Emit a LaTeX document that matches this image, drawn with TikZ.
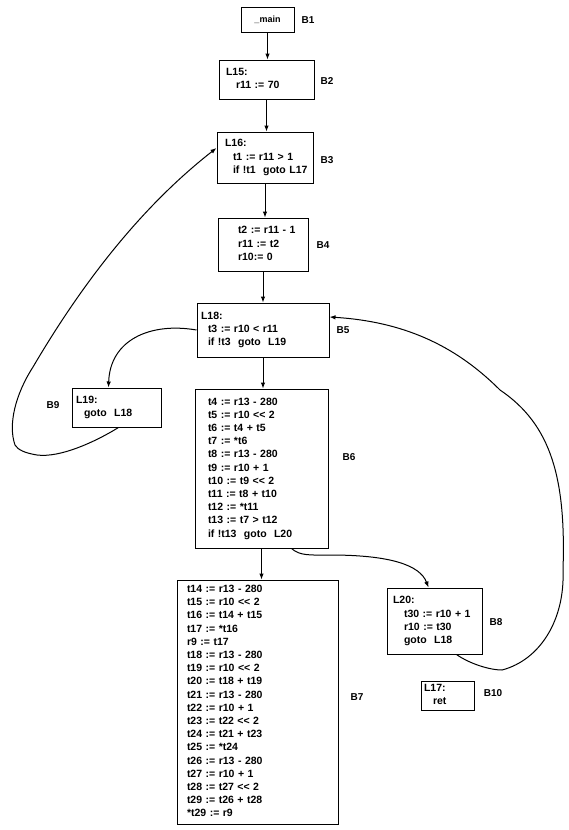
\documentclass[tikz,border=0pt]{standalone}
\usepackage{fontspec}
\setmainfont{Liberation Sans}[Ligatures=TeXOff]
\usetikzlibrary{arrows.meta}
\newcommand\blines[1]{\begin{tabular}{@{}l@{}}#1\end{tabular}}
\newcommand\ind[1]{\hspace*{#1pt}}
\newcommand\wsp{\hspace{0.7em}}
\newcommand\blkfont{\fontsize{10.5}{13.2}\selectfont\bfseries\spaceskip=0.42em plus 0.1em\relax}
\tikzset{
  blk/.style={draw, line width=1pt, inner xsep=0pt, inner ysep=0pt,
    font=\blkfont, align=left},
  lbl/.style={font=\fontsize{10}{12}\selectfont\bfseries},
  arr/.style={line width=1pt, -{Latex[length=6pt,width=4.5pt]}},
}
\begin{document}
\begin{tikzpicture}[x=1pt,y=-1pt]
\useasboundingbox (0,0) rectangle (569,830);

\node[blk, minimum width=53pt, minimum height=25pt, align=center, font=\fontsize{9}{11}\selectfont\bfseries] (B1) at (267.5,19.5) {\_main};
\node[blk, minimum width=95pt, minimum height=39pt, text width=81pt] (B2) at (266.5,79.5)
  {\blines{L15:\\\ind{10}r11 := 70}};
\node[blk, minimum width=96pt, minimum height=51pt, text width=80pt] (B3) at (265,157.5)
  {\blines{L16:\\\ind{8}t1 := r11 > 1\\\ind{8}if !t1\wsp goto L17}};
\node[blk, minimum width=90pt, minimum height=53pt, text width=50pt] (B4) at (263,244.5)
  {\blines{t2 := r11 - 1\\r11 := t2\\r10:= 0}};
\node[blk, minimum width=132pt, minimum height=54pt, text width=124pt] (B5) at (263,330)
  {\blines{L18:\\\ind{7}t3 := r10 < r11\\\ind{7}if !t3\wsp goto\wsp L19}};
\node[blk, minimum width=133pt, minimum height=159pt, text width=107pt] (B6) at (261.5,468.5)
  {\blines{t4 := r13 - 280\\t5 := r10 << 2\\t6 := t4 + t5\\t7 := *t6\\t8 := r13 - 280\\t9 := r10 + 1\\t10 := t9 << 2\\t11 := t8 + t10\\t12 := *t11\\t13 := t7 > t12\\if !t13\wsp goto\wsp L20}};
\node[blk, minimum width=161pt, minimum height=244pt, text width=141pt] (B7) at (257.5,702)
  {\blines{t14 := r13 - 280\\t15 := r10 << 2\\t16 := t14 + t15\\t17 := *t16\\r9 := t17\\t18 := r13 - 280\\t19 := r10 << 2\\t20 := t18 + t19\\t21 := r13 - 280\\t22 := r10 + 1\\t23 := t22 << 2\\t24 := t21 + t23\\t25 := *t24\\t26 := r13 - 280\\t27 := r10 + 1\\t28 := t27 << 2\\t29 := t26 + t28\\{*}t29 := r9}};
\node[blk, minimum width=95pt, minimum height=66pt, text width=83pt] (B8) at (434.5,621)
  {\blines{L20:\\\ind{11}t30 := r10 + 1\\\ind{11}r10 := t30\\\ind{11}goto\wsp L18}};
\node[blk, minimum width=89pt, minimum height=39pt, text width=81pt] (B9) at (116.5,407.5)
  {\blines{L19:\\\ind{8}goto\wsp L18}};
\node[blk, minimum width=53pt, minimum height=29pt, text width=47pt] (B10) at (447.5,695.5)
  {\blines{L17:\\\ind{9}ret}};

\node[lbl] (l1) at (308,20) {B1};
\node[lbl] (l2) at (327,81) {B2};
\node[lbl] (l3) at (327,160) {B3};
\node[lbl] (l4) at (323,245) {B4};
\node[lbl] (l5) at (343,330) {B5};
\node[lbl] (l6) at (349,457) {B6};
\node[lbl] (l7) at (357,697) {B7};
\node[lbl] (l8) at (496,622) {B8};
\node[lbl] (l9) at (53,405) {B9};
\node[lbl] (l10) at (493,693) {B10};

\draw[arr] (B1.south) -- (B1.south |- B2.north);
\draw[arr] (B2.south) -- (B2.south |- B3.north);
\draw[arr] (B3.south) -- (B3.south |- B4.north);
\draw[arr] (B4.south) -- (B4.south |- B5.north);
\draw[arr] (B5.south) -- (B5.south |- B6.north);
\draw[arr] (B6.south) -- (B6.south |- B7.north);

\draw[arr] (B5.west) .. controls (150,322) and (110,340) .. ([xshift=-8pt]B9.north);
\draw[arr] ([xshift=2pt]B9.south) .. controls (95,442) and (60,458) .. (37,455)
  .. controls (25,453) and (18,450) .. (15,445)
  .. controls (8,425) and (15,395) .. (33,367)
  .. controls (90,270) and (150,200) .. ([yshift=9.5pt]B3.west);
\draw[arr] ([xshift=30pt]B6.south) .. controls (300,556) and (310,555) .. (330,555)
  .. controls (390,555) and (420,565) .. ([xshift=-6pt]B8.north);
\draw[arr] ([xshift=22pt]B8.south) .. controls (470,664) and (490,670) .. (502,670)
  .. controls (540,660) and (565,620) .. (563,570)
  .. controls (566,480) and (552,425) .. (500,390)
  .. controls (460,350) and (410,322) .. ([yshift=13pt]B5.east);
\end{tikzpicture}
\end{document}
